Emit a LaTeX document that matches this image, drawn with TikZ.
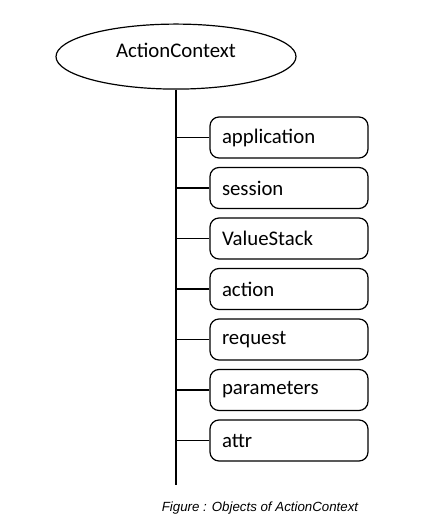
\documentclass[tikz,border=0pt]{standalone}
\usepackage{fontspec}
\usepackage{tikz}
\usetikzlibrary{shapes.geometric, positioning}
\newfontfamily\boxfont{Carlito}
\newfontfamily\capfont{Liberation Sans}
\tikzset{
    rootnode/.style={ellipse, draw, line width=0.6pt, minimum width=120pt,
                     minimum height=32.5pt, inner sep=0pt,
                     text height=7pt, text depth=6.4pt,
                     font=\boxfont\fontsize{10.4}{12}\selectfont},
    objbox/.style={rectangle, draw, line width=0.6pt, rounded corners=4.5pt,
                   minimum width=79pt, minimum height=20.5pt, text width=67pt,
                   inner xsep=6pt, align=left,
                   font=\boxfont\fontsize{10.4}{12}\selectfont},
    branch/.style={line width=0.65pt},
    caption/.style={font=\capfont\itshape\fontsize{6.65}{8}\selectfont}
}
\begin{document}
\begin{tikzpicture}[node distance=4.15pt]
    \useasboundingbox (0pt,0pt) rectangle (215pt,-261pt);
    \node[rootnode] (ctx) at (88pt,-28.3pt) {ActionContext};
    \node[objbox] (app) at (144.5pt,-68.75pt) {application};
    \node[objbox, below=of app] (sess) {session};
    \node[objbox, below=of sess] (vstack) {ValueStack};
    \node[objbox, below=of vstack] (act) {action};
    \node[objbox, below=of act] (req) {request};
    \node[objbox, below=of req] (params) {parameters};
    \node[objbox, below=of params] (attr) {attr};
    \coordinate (trunkend) at (88pt,-242.5pt);
    \node[caption] (cap) at (130pt,-254pt) {Figure : Objects of ActionContext};

    \draw[branch] (ctx.south) -- (trunkend);
    \foreach \obj in {app, sess, vstack, act, req, params, attr}
        \draw[branch] (\obj.west) -- (\obj.west -| ctx.south);
\end{tikzpicture}
\end{document}
